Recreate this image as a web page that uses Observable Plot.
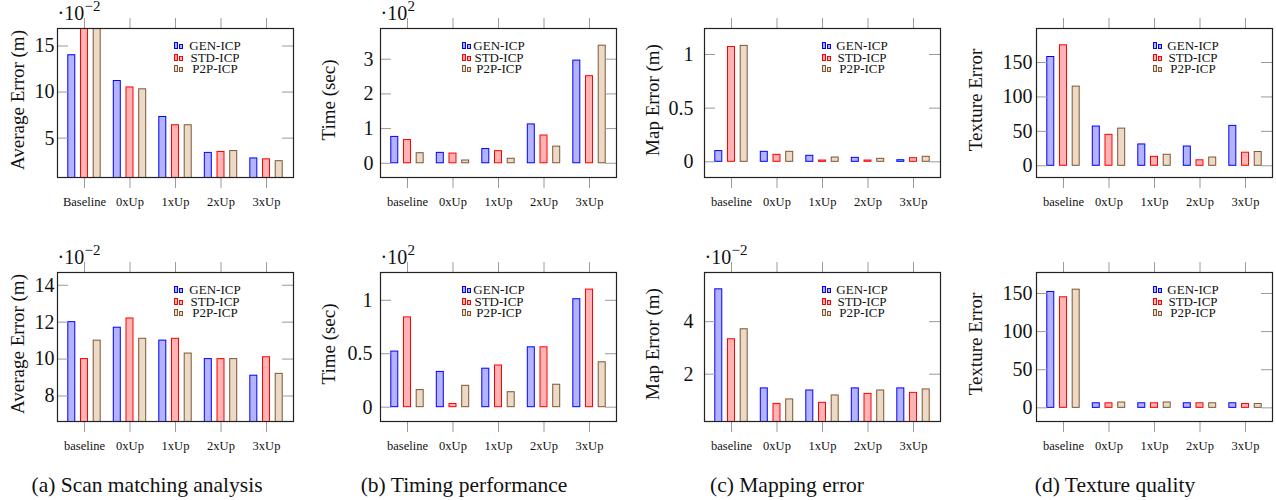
<!DOCTYPE html>
<html><head><meta charset="utf-8">
<script src="https://cdn.jsdelivr.net/npm/d3@7"></script>
<script src="https://cdn.jsdelivr.net/npm/@observablehq/plot@0.6"></script>
<style>
html,body{margin:0;padding:0;background:#fff;}
body{width:1276px;height:500px;position:relative;overflow:hidden;font-family:"Liberation Serif","Times New Roman",serif;color:#111;}
.panel{position:absolute;}
.caption{position:absolute;font-size:21.5px;line-height:24px;white-space:nowrap;transform:translateX(-50%);}
.lgtext{position:absolute;font-size:13px;line-height:11px;white-space:nowrap;transform:translateX(-50%);}
.icon{position:absolute;box-sizing:border-box;border-width:1px;border-style:solid;}
</style></head>
<body>
<script>
// ---------- data ----------
const series = ["GEN-ICP", "STD-ICP", "P2P-ICP"];
const categoriesA = ["Baseline", "0xUp", "1xUp", "2xUp", "3xUp"];
const categories = ["baseline", "0xUp", "1xUp", "2xUp", "3xUp"];

// top row
const scanTopGEN = [14.0, 11.2, 7.3, 3.4, 2.8];
const scanTopSTD = [17.2, 10.5, 6.4, 3.5, 2.7];
const scanTopP2P = [17.2, 10.3, 6.4, 3.6, 2.5];
const timeTopGEN = [0.76, 0.30, 0.41, 1.12, 2.96];
const timeTopSTD = [0.67, 0.28, 0.35, 0.80, 2.51];
const timeTopP2P = [0.29, 0.08, 0.13, 0.48, 3.39];
const mapTopGEN = [0.10, 0.093, 0.056, 0.037, 0.015];
const mapTopSTD = [1.07, 0.065, 0.012, 0.012, 0.034];
const mapTopP2P = [1.08, 0.093, 0.040, 0.028, 0.047];
const texTopGEN = [158, 57, 31, 28, 58];
const texTopSTD = [175, 45, 13, 8, 19];
const texTopP2P = [115, 54, 16, 12, 20];

// bottom row
const scanBotGEN = [12.0, 11.7, 11.0, 10.0, 9.1];
const scanBotSTD = [10.0, 12.2, 11.1, 10.0, 10.1];
const scanBotP2P = [11.0, 11.1, 10.3, 10.0, 9.2];
const timeBotGEN = [0.52, 0.33, 0.36, 0.56, 1.01];
const timeBotSTD = [0.84, 0.03, 0.39, 0.56, 1.10];
const timeBotP2P = [0.16, 0.20, 0.14, 0.21, 0.42];
const mapBotGEN = [5.23, 1.46, 1.38, 1.46, 1.46];
const mapBotSTD = [3.33, 0.87, 0.91, 1.25, 1.29];
const mapBotP2P = [3.71, 1.04, 1.19, 1.38, 1.42];
const texBotGEN = [152, 6, 6, 6, 6];
const texBotSTD = [145, 6, 6, 6, 5];
const texBotP2P = [155, 7, 7, 6, 5];

// tick values
const ticksScanTop = [5, 10, 15];
const ticksTimeTop = [0, 1, 2, 3];
const ticksMapTop = [0, 0.5, 1];
const ticksTex = [0, 50, 100, 150];
const ticksScanBot = [8, 10, 12, 14];
const ticksTimeBot = [0, 0.5, 1];
const ticksMapBot = [2, 4];

const captions = ["(a) Scan matching analysis", "(b) Timing performance", "(c) Mapping error", "(d) Texture quality"];

// ---------- styles ----------
const strokes = ["#0000ff", "#ff0000", "#7d5734"];
const fills = ["#b3b3ff", "#ffb3b3", "#ecd9c6"];
const W = 236, H = 149, MT = 28, MB = 40, MR = 4;
const padOuter = 0.093;
const bw = W / (5 + 2 * padOuter);
const barW = 7;
const barDx = [-12.7, 0, 12.7];

function panel(cfg) {
  const {frameLeft, frameTop, ML, cats, vals, domain, ticks, gap, ylabel, labelOffset, exponent, legendIcon, legendText} = cfg;
  const inset = (bw - barW) / 2;
  const bars = vals.map((arr, s) => Plot.barY(cats.map((c, i) => ({cat: c, v: arr[i]})), {
    x: "cat", y: "v", fill: fills[s], stroke: strokes[s], strokeWidth: 1,
    insetLeft: inset, insetRight: inset, dx: barDx[s], clip: true
  }));
  const marks = [
    ...bars,
    Plot.tickY(ticks, {y: d => d, stroke: "#9a9a9a", strokeWidth: 1, insetRight: W - 11}),
    Plot.tickY(ticks, {y: d => d, stroke: "#9a9a9a", strokeWidth: 1, insetLeft: W - 11}),
    Plot.axisY({ticks, tickSize: 0, tickPadding: gap, fontSize: 20, label: null, tickFormat: d => String(d)}),
    Plot.axisX({anchor: "bottom", tickSize: 11, tickPadding: 9, stroke: "#9a9a9a", fontSize: 12.5, label: null}),
    Plot.axisX({anchor: "top", tickSize: 11, stroke: "#9a9a9a", tickFormat: null, label: null}),
    Plot.frame({stroke: "#222", strokeWidth: 1.2}),
    Plot.text([ylabel], {frameAnchor: "left", rotate: -90, dx: -labelOffset, dy: -3, textAnchor: "middle", lineAnchor: "middle", fontSize: 19})
  ];
  if (exponent) {
    marks.push(Plot.text(["\u00b710"], {frameAnchor: "top-left", dx: 0, dy: -15, textAnchor: "start", lineAnchor: "middle", fontSize: 20}));
    marks.push(Plot.text([exponent], {frameAnchor: "top-left", dx: 27, dy: -22, textAnchor: "start", lineAnchor: "middle", fontSize: 15}));
  }
  const svg = Plot.plot({
    width: ML + W + MR, height: MT + H + MB,
    marginLeft: ML, marginRight: MR, marginTop: MT, marginBottom: MB,
    style: {fontFamily: "'Liberation Serif','Times New Roman',serif", background: "transparent", color: "#111", overflow: "visible"},
    x: {type: "band", domain: cats, paddingInner: 0, paddingOuter: padOuter, round: false},
    y: {domain},
    marks
  });
  const div = document.createElement("div");
  div.className = "panel";
  div.style.left = (frameLeft - ML) + "px";
  div.style.top = (frameTop - MT) + "px";
  div.appendChild(svg);
  document.body.appendChild(div);
  // legend
  const rows = [17, 28.5, 40];
  series.forEach((name, s) => {
    const cy = frameTop + rows[s];
    const b1 = document.createElement("div");
    b1.className = "icon";
    Object.assign(b1.style, {left: (frameLeft + legendIcon) + "px", top: (cy - 3) + "px", width: "4px", height: "7px", borderColor: strokes[s], background: fills[s]});
    const b2 = document.createElement("div");
    b2.className = "icon";
    Object.assign(b2.style, {left: (frameLeft + legendIcon + 5) + "px", top: (cy - 1) + "px", width: "4px", height: "5px", borderColor: strokes[s], background: fills[s]});
    const t = document.createElement("div");
    t.className = "lgtext";
    t.textContent = name;
    Object.assign(t.style, {left: (frameLeft + legendText) + "px", top: (cy - 5) + "px"});
    document.body.append(b1, b2, t);
  });
}

const topY = 28, botY = 272;
panel({frameLeft: 57, frameTop: topY, ML: 57, cats: categoriesA, vals: [scanTopGEN, scanTopSTD, scanTopP2P], domain: [0.73, 16.9], ticks: ticksScanTop, gap: 3, ylabel: "Average Error (m)", labelOffset: 40, exponent: "\u22122", legendIcon: 117, legendText: 158});
panel({frameLeft: 380, frameTop: topY, ML: 75, cats: categories, vals: [timeTopGEN, timeTopSTD, timeTopP2P], domain: [-0.41, 3.885], ticks: ticksTimeTop, gap: 7, ylabel: "Time (sec)", labelOffset: 52, exponent: "2", legendIcon: 82, legendText: 119});
panel({frameLeft: 704, frameTop: topY, ML: 75, cats: categories, vals: [mapTopGEN, mapTopSTD, mapTopP2P], domain: [-0.146, 1.242], ticks: ticksMapTop, gap: 11, ylabel: "Map Error (m)", labelOffset: 52, exponent: null, legendIcon: 118, legendText: 158});
panel({frameLeft: 1036, frameTop: topY, ML: 75, cats: categories, vals: [texTopGEN, texTopSTD, texTopP2P], domain: [-17, 199.4], ticks: ticksTex, gap: 4, ylabel: "Texture Error", labelOffset: 61, exponent: null, legendIcon: 117, legendText: 157});

panel({frameLeft: 57, frameTop: botY, ML: 57, cats: categories, vals: [scanBotGEN, scanBotSTD, scanBotP2P], domain: [6.62, 14.69], ticks: ticksScanBot, gap: 3, ylabel: "Average Error (m)", labelOffset: 40, exponent: "\u22122", legendIcon: 117, legendText: 158});
panel({frameLeft: 380, frameTop: botY, ML: 75, cats: categories, vals: [timeBotGEN, timeBotSTD, timeBotP2P], domain: [-0.134, 1.26], ticks: ticksTimeBot, gap: 8, ylabel: "Time (sec)", labelOffset: 52, exponent: "2", legendIcon: 82, legendText: 119});
panel({frameLeft: 704, frameTop: botY, ML: 75, cats: categories, vals: [mapBotGEN, mapBotSTD, mapBotP2P], domain: [0.20, 5.87], ticks: ticksMapBot, gap: 11, ylabel: "Map Error (m)", labelOffset: 52, exponent: "\u22122", legendIcon: 118, legendText: 158});
panel({frameLeft: 1036, frameTop: botY, ML: 75, cats: categories, vals: [texBotGEN, texBotSTD, texBotP2P], domain: [-17.9, 177.5], ticks: ticksTex, gap: 4, ylabel: "Texture Error", labelOffset: 61, exponent: null, legendIcon: 117, legendText: 157});

const capX = [147, 464, 787, 1115];
captions.forEach((c, i) => {
  const d = document.createElement("div");
  d.className = "caption";
  d.textContent = c;
  d.style.left = capX[i] + "px";
  d.style.top = "473px";
  document.body.appendChild(d);
});
</script>
</body></html>
